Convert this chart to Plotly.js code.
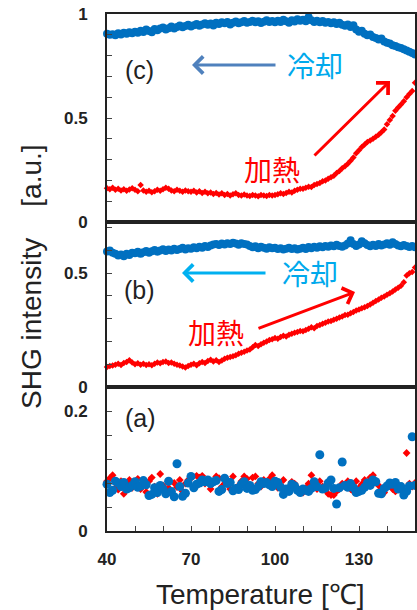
<!DOCTYPE html>
<html><head><meta charset="utf-8">
<script src="https://cdn.plot.ly/plotly-3.0.1.min.js"></script>
<style>html,body{margin:0;padding:0;background:#fff;}#chart{width:417px;height:610px;}</style>
</head><body><div id="chart"></div>
<script>
const temps = [40,41,42,43,44,45,46,47,48,49,50,51,52,53,54,55,56,57,58,59,60,61,62,63,64,65,66,67,68,69,70,71,72,73,74,75,76,77,78,79,80,81,82,83,84,85,86,87,88,89,90,91,92,93,94,95,96,97,98,99,100,101,102,103,104,105,106,107,108,109,110,111,112,113,114,115,116,117,118,119,120,121,122,123,124,125,126,127,128,129,130,131,132,133,134,135,136,137,138,139,140,141,142,143,144,145,146,147,148,149,150];

// Panel (c)
const cCool = [0.905,0.900,0.903,0.898,0.907,0.902,0.910,0.905,0.912,0.908,
0.915,0.910,0.920,0.914,0.925,0.918,0.912,0.928,0.922,0.930,
0.935,0.926,0.932,0.940,0.930,0.938,0.945,0.936,0.942,0.948,
0.940,0.946,0.952,0.944,0.950,0.956,0.948,0.954,0.945,0.958,
0.952,0.960,0.955,0.962,0.950,0.958,0.964,0.956,0.960,0.966,
0.958,0.962,0.968,0.960,0.965,0.957,0.963,0.970,0.962,0.966,
0.960,0.968,0.962,0.972,0.965,0.958,0.970,0.964,0.975,0.967,
0.972,0.965,0.985,0.970,0.962,0.968,0.960,0.966,0.958,0.962,
0.955,0.960,0.952,0.958,0.948,0.944,0.950,0.938,0.946,0.925,
0.915,0.920,0.905,0.898,0.902,0.890,0.885,0.878,0.882,0.868,
0.862,0.858,0.850,0.846,0.840,0.836,0.830,0.824,0.818,0.812,
0.805];
const cHeat = [0.162,0.158,0.165,0.155,0.160,0.152,0.158,0.150,0.156,0.162,
0.155,0.148,0.178,0.152,0.145,0.150,0.143,0.148,0.155,0.150,
0.158,0.165,0.160,0.152,0.148,0.155,0.150,0.145,0.152,0.148,
0.145,0.150,0.142,0.148,0.140,0.146,0.138,0.142,0.135,0.140,
0.132,0.138,0.130,0.135,0.128,0.133,0.138,0.130,0.127,0.132,
0.128,0.125,0.130,0.127,0.124,0.130,0.128,0.125,0.130,0.127,
0.130,0.133,0.138,0.135,0.140,0.145,0.142,0.150,0.155,0.160,
0.160,0.165,0.170,0.168,0.178,0.183,0.188,0.196,0.200,0.208,
0.215,0.222,0.235,0.245,0.258,0.268,0.280,0.295,0.310,0.330,
0.345,0.360,0.372,0.385,0.392,0.400,0.410,0.420,0.432,0.445,
0.470,0.490,0.510,0.535,0.550,0.565,0.580,0.600,0.615,0.630,
0.670];

// Panel (b)
const bCool = [0.595,0.600,0.590,0.585,0.578,0.582,0.575,0.586,0.580,0.590,
0.588,0.594,0.585,0.592,0.598,0.590,0.596,0.602,0.594,0.600,
0.605,0.598,0.604,0.600,0.608,0.602,0.606,0.612,0.604,0.610,
0.608,0.614,0.610,0.616,0.612,0.620,0.615,0.622,0.626,0.628,
0.624,0.630,0.626,0.632,0.628,0.634,0.630,0.625,0.632,0.628,
0.626,0.620,0.614,0.618,0.610,0.616,0.612,0.608,0.614,0.610,
0.612,0.606,0.610,0.604,0.608,0.612,0.606,0.610,0.604,0.608,
0.612,0.606,0.615,0.610,0.616,0.612,0.618,0.614,0.620,0.616,
0.622,0.618,0.625,0.620,0.616,0.622,0.630,0.645,0.628,0.620,
0.626,0.640,0.632,0.624,0.618,0.625,0.620,0.628,0.622,0.626,
0.632,0.625,0.636,0.628,0.622,0.618,0.624,0.620,0.615,0.620,
0.614];
const bHeat = [0.088,0.092,0.095,0.098,0.102,0.097,0.105,0.110,0.118,0.108,
0.100,0.104,0.098,0.102,0.097,0.100,0.096,0.102,0.108,0.104,
0.110,0.112,0.106,0.108,0.102,0.098,0.094,0.090,0.086,0.092,
0.098,0.102,0.096,0.104,0.110,0.106,0.114,0.120,0.112,0.118,
0.110,0.116,0.124,0.128,0.132,0.135,0.140,0.146,0.150,0.155,
0.160,0.165,0.175,0.185,0.180,0.188,0.194,0.200,0.206,0.210,
0.215,0.212,0.220,0.225,0.222,0.230,0.234,0.238,0.242,0.246,
0.245,0.250,0.256,0.262,0.258,0.268,0.272,0.278,0.282,0.288,
0.290,0.296,0.300,0.305,0.310,0.316,0.318,0.324,0.330,0.336,
0.340,0.346,0.350,0.356,0.362,0.370,0.378,0.384,0.392,0.398,
0.405,0.412,0.420,0.428,0.436,0.445,0.460,0.490,0.500,0.505,
0.525];

// Panel (a)
const aCool = [0.078,0.064,0.068,0.083,0.080,0.074,0.081,0.070,0.072,0.076,
0.082,0.073,0.075,0.084,0.077,0.059,0.061,0.072,0.064,0.076,
0.070,0.062,0.083,0.066,0.057,0.112,0.074,0.058,0.063,0.080,
0.091,0.072,0.078,0.080,0.085,0.082,0.085,0.079,0.082,0.084,
0.066,0.069,0.088,0.079,0.081,0.067,0.071,0.069,0.078,0.082,
0.071,0.076,0.068,0.069,0.074,0.082,0.079,0.081,0.077,0.074,
0.083,0.081,0.073,0.061,0.070,0.066,0.078,0.075,0.068,0.064,
0.070,0.068,0.066,0.071,0.082,0.074,0.127,0.070,0.072,0.080,
0.085,0.071,0.045,0.072,0.115,0.076,0.073,0.079,0.072,0.064,
0.066,0.068,0.073,0.080,0.076,0.085,0.082,0.063,0.062,0.071,
0.075,0.080,0.078,0.081,0.070,0.074,0.060,0.066,0.075,0.157,
0.076];
const aHeat = [0.083,0.088,0.093,0.072,0.069,0.083,0.062,0.079,0.085,0.072,
0.076,0.087,0.070,0.078,0.065,0.083,0.089,0.074,0.062,0.095,
0.076,0.068,0.072,0.062,0.080,0.073,0.085,0.066,0.079,0.085,
0.088,0.074,0.092,0.089,0.092,0.079,0.085,0.070,0.083,0.091,
0.088,0.074,0.079,0.085,0.070,0.091,0.072,0.076,0.083,0.091,
0.087,0.077,0.089,0.091,0.079,0.074,0.085,0.081,0.087,0.093,
0.079,0.072,0.076,0.085,0.068,0.070,0.082,0.079,0.072,0.065,
0.064,0.072,0.079,0.093,0.075,0.070,0.083,0.074,0.068,0.062,
0.060,0.060,0.066,0.070,0.079,0.074,0.083,0.070,0.066,0.083,
0.072,0.078,0.085,0.079,0.089,0.093,0.083,0.076,0.070,0.064,
0.072,0.079,0.070,0.066,0.074,0.072,0.068,0.130,0.079,0.074,
0.080];

const xTickVals = [40,50,60,70,80,90,100,110,120,130,140,150];
const xTickText = ['40','','','70','','','100','','','130','',''];
const aTickVals = [0,0.04,0.08,0.12,0.16,0.2,0.24];
const aTickText = ['0','','','','','0.2',''];
const bTickVals = [0,0.1,0.2,0.3,0.4,0.5,0.6,0.7];
const bTickText = ['0','','','','','0.5','',''];
const cTickVals = [0,0.1,0.2,0.3,0.4,0.5,0.6,0.7,0.8,0.9,1];
const cTickText = ['0','','','','','0.5','','','','','1'];

const BLUE = '#0070C0', RED = '#FF0000';
const W = 417, H = 610, ML = 107, MR = 2, MT = 14, MB = 79;
const PW = W - ML - MR, PH = H - MT - MB;
const px = x => (x - ML) / PW;
const py = y => (H - MB - y) / PH;

function sc(y, xa, ya, color, sym, size) {
  return {x: temps, y: y, xaxis: xa, yaxis: ya, type: 'scatter', mode: 'markers',
    cliponaxis: false, hoverinfo: 'skip',
    marker: {color: color, symbol: sym, size: size, line: {width: 0}}};
}
const data = [
  sc(aHeat, 'x', 'y', RED, 'diamond', 6),
  sc(aCool, 'x', 'y', BLUE, 'circle', 9),
  sc(bCool, 'x2', 'y2', BLUE, 'circle', 8),
  sc(bHeat, 'x2', 'y2', RED, 'diamond', 5),
  sc(cCool, 'x3', 'y3', BLUE, 'circle', 8),
  sc(cHeat, 'x3', 'y3', RED, 'diamond', 5)
];

const tickFont = {family: 'Liberation Sans, Arial, sans-serif', size: 17, color: '#222', weight: 'bold'};
const axLine = {showline: true, linecolor: '#222', linewidth: 2, mirror: true, showgrid: false, zeroline: false};
const xBase = Object.assign({range: [40, 150], tickmode: 'array', tickvals: xTickVals, ticktext: xTickText}, axLine);
const yBase = Object.assign({tickmode: 'array', ticks: 'inside', ticklen: 5, tickwidth: 1, tickcolor: '#444',
  tickfont: tickFont, ticklabelstandoff: 14}, axLine);

const dA = [0, 144 / PH], dB = [144 / PH, 309 / PH], dC = [309 / PH, 1];

const layout = {
  width: W, height: H, margin: {l: ML, r: MR, t: MT, b: MB},
  paper_bgcolor: '#fff', plot_bgcolor: '#fff', showlegend: false,
  xaxis: Object.assign({}, xBase, {anchor: 'y', ticks: 'inside', ticklen: 5, tickwidth: 1, tickcolor: '#444', tickfont: tickFont, ticklabelstandoff: 12}),
  xaxis2: Object.assign({}, xBase, {anchor: 'y2', matches: 'x', ticks: '', showticklabels: false}),
  xaxis3: Object.assign({}, xBase, {anchor: 'y3', matches: 'x', ticks: '', showticklabels: false}),
  yaxis: Object.assign({}, yBase, {domain: dA, range: [0, 0.24], tickvals: aTickVals, ticktext: aTickText, anchor: 'x'}),
  yaxis2: Object.assign({}, yBase, {domain: dB, range: [0, 0.725], tickvals: bTickVals, ticktext: bTickText, anchor: 'x2'}),
  yaxis3: Object.assign({}, yBase, {domain: dC, range: [0, 1], tickvals: cTickVals, ticktext: cTickText, anchor: 'x3'}),
  annotations: []
};

const txtFont = {family: 'Liberation Sans, Arial, sans-serif', size: 25, color: '#222'};
const cjk = c => ({family: 'Noto Sans CJK JP, sans-serif', size: 28, color: c});
function label(text, x, y, font, angle) {
  layout.annotations.push({text: text, xref: 'paper', yref: 'paper', x: px(x), y: py(y),
    xanchor: 'center', yanchor: 'middle', showarrow: false, font: font, textangle: angle || 0});
}
function arrow(hx, hy, tx, ty, color) {
  layout.annotations.push({text: '', xref: 'paper', yref: 'paper', x: px(hx), y: py(hy),
    ax: tx - hx, ay: ty - hy, showarrow: true, arrowhead: 4, arrowsize: 1.1, arrowwidth: 3,
    arrowcolor: color, standoff: 0});
}

label('(c)', 139, 70, txtFont);
label('冷却', 315, 65, cjk('#00A9EC'));
arrow(192, 65, 277, 65, '#4F81BD');
label('加熱', 272, 169, cjk(RED));
arrow(390, 81, 313, 157, RED);

label('(b)', 139, 290, txtFont);
label('冷却', 310, 273, cjk('#00A9EC'));
arrow(182, 273, 267, 273, '#00B0F0');
label('加熱', 216, 332, cjk(RED));
arrow(355, 292, 257, 329, RED);

label('(a)', 140, 418, txtFont);

label('SHG intensity\u00a0\u00a0\u00a0\u00a0[a.u.]', 31, 277, {family: 'Liberation Sans, Arial, sans-serif', size: 28, color: '#222'}, -90);
label('Temperature [℃]', 260, 594, {family: 'Liberation Sans, Arial, sans-serif', size: 28, color: '#222'});

Plotly.newPlot('chart', data, layout, {staticPlot: true});
</script></body></html>
